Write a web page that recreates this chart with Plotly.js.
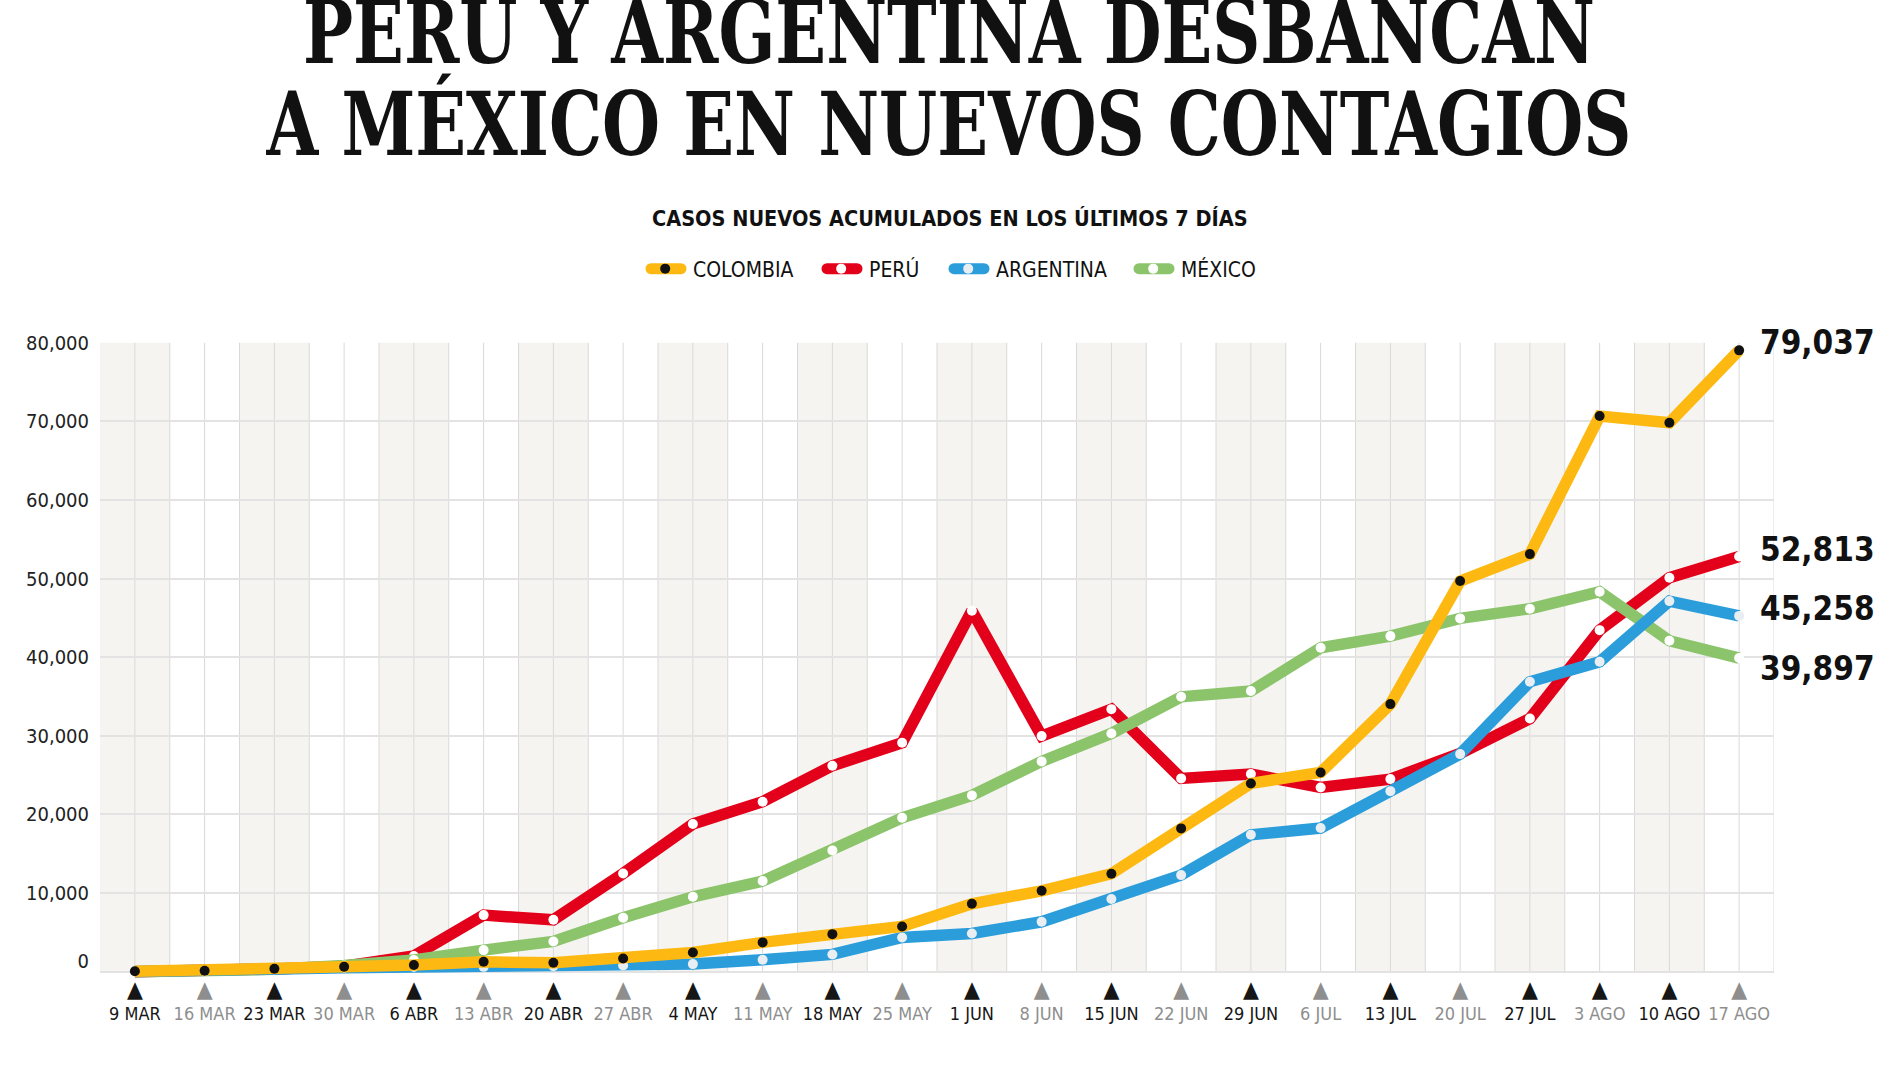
<!DOCTYPE html>
<html>
<head>
<meta charset="utf-8">
<script src="https://cdn.plot.ly/plotly-3.0.1.min.js"></script>
<style>
  html, body { margin: 0; padding: 0; background: #ffffff; }
  #chart { width: 1900px; height: 1068px; }
</style>
</head>
<body>
<div id="chart"></div>
<script>
// ---------- DATA ----------
const weeks = ["9 MAR","16 MAR","23 MAR","30 MAR","6 ABR","13 ABR","20 ABR","27 ABR",
  "4 MAY","11 MAY","18 MAY","25 MAY","1 JUN","8 JUN","15 JUN","22 JUN","29 JUN",
  "6 JUL","13 JUL","20 JUL","27 JUL","3 AGO","10 AGO","17 AGO"];

const colombia  = [50, 130, 380, 640, 850, 1260, 1130, 1690, 2450, 3730, 4780, 5760,
  8640, 10290, 12460, 18230, 23950, 25350, 34040, 49690, 53120, 70680, 69830, 79037];
const peru      = [10, 110, 350, 700, 2000, 7200, 6600, 12500, 18780, 21620, 26200, 29120,
  45910, 29970, 33400, 24590, 25140, 23440, 24500, 27770, 32200, 43450, 50110, 52813];
const argentina = [20, 60, 300, 500, 600, 620, 700, 800, 970, 1520, 2200, 4360,
  4870, 6350, 9240, 12290, 17420, 18270, 22970, 27680, 36880, 39420, 47140, 45258];
const mexico    = [10, 80, 300, 800, 1500, 2750, 3850, 6860, 9530, 11530, 15430, 19580,
  22430, 26750, 30310, 34970, 35700, 41200, 42690, 44940, 46170, 48330, 42100, 39897];

const yTicks = [0, 10000, 20000, 30000, 40000, 50000, 60000, 70000, 80000];

// tick emphasis (which labels / triangles are dark)
const darkLabel    = weeks.map((w, i) => i % 2 === 0);
const darkTriangle = weeks.map((w, i) => i % 2 === 0 || w === "3 AGO");

// ---------- STYLE ----------
const SANS = "DejaVu Sans Condensed, DejaVu Sans, sans-serif";
const DARK = "#161616", GREY = "#8e8e8e";
const idx = weeks.map((w, i) => i);

const ticktext = weeks.map((w, i) =>
  `<span style="color:${darkTriangle[i] ? DARK : GREY};font-size:23px">▲</span><br>` +
  `<span style="color:${darkLabel[i] ? DARK : GREY}">${w}</span>`);

function series(name, y, color, dot, rank) {
  return {
    type: "scatter", mode: "lines+markers", name: name, x: idx, y: y,
    line: { color: color, width: 11.5 },
    marker: { color: dot, size: 10, line: { width: 0 } },
    legendrank: rank, hoverinfo: "x+y+name", cliponaxis: false
  };
}

// drawing order: Perú (bottom), México, Argentina, Colombia (top)
const data = [
  series("PERÚ", peru, "#e3001b", "#ffffff", 2),
  series("MÉXICO", mexico, "#8cc46c", "#ffffff", 4),
  series("ARGENTINA", argentina, "#2b9ddb", "#e9eef3", 3),
  series("COLOMBIA", colombia, "#fdb912", "#111111", 1)
];

// background bands and vertical grid lines
const shapes = [];
for (let k = 0; k < weeks.length; k += 2) {
  shapes.push({ type: "rect", xref: "x", yref: "y", x0: k - 0.5, x1: k + 0.5,
    y0: 0, y1: 80000, fillcolor: "#f6f4f0", line: { width: 0 }, layer: "below" });
}
for (let j = 1; j <= weeks.length * 2; j++) {
  const xv = -0.5 + j * 0.5;
  shapes.push({ type: "line", xref: "x", yref: "y", x0: xv, x1: xv, y0: 0, y1: 80000,
    line: { color: "#d9d9d9", width: 1 }, layer: "below" });
}

const last = a => a[a.length - 1];
const endLabel = (v, off) => ({
  xref: "paper", yref: "y", x: 1.0615, y: v + off, xanchor: "right", yanchor: "middle",
  text: v.toLocaleString("en-US"), showarrow: false,
  font: { family: SANS, size: 33, weight: 700, color: "#111111" }
});

const layout = {
  width: 1900, height: 1068,
  paper_bgcolor: "#ffffff", plot_bgcolor: "#ffffff",
  margin: { l: 100, r: 126, t: 342, b: 90 },
  title: {
    text: "PERU Y ARGENTINA DESBANCAN<br>A MÉXICO EN NUEVOS CONTAGIOS",
    font: { family: "DejaVu Serif Condensed, DejaVu Serif, serif", size: 88, weight: 700, color: "#111111" },
    x: 0.5, xanchor: "center", xref: "paper", yref: "container", y: 0.99, yanchor: "top"
  },
  showlegend: true,
  legend: {
    orientation: "h", x: 0.5078, xanchor: "center", y: 1.1148, yanchor: "middle",
    font: { family: SANS, size: 21, color: "#111111" }, itemwidth: 44,
    traceorder: "normal", bgcolor: "rgba(0,0,0,0)"
  },
  xaxis: {
    range: [-0.5, 23.5], tickmode: "array", tickvals: idx, ticktext: ticktext,
    showgrid: false, zeroline: false, showline: false, ticks: "",
    tickfont: { family: SANS, size: 18, color: DARK }, fixedrange: true
  },
  yaxis: {
    range: [-800, 80100], tickmode: "array", tickvals: yTicks,
    ticktext: yTicks.map(v => v.toLocaleString("en-US")),
    showgrid: true, gridcolor: "#e3e3e3", gridwidth: 2,
    zeroline: false, showline: false, ticks: "", ticklabelstandoff: 10,
    tickfont: { family: SANS, size: 20, color: "#222222" }, fixedrange: true
  },
  shapes: shapes,
  annotations: [
    { xref: "paper", yref: "paper", x: 0.5078, y: 1.1934, xanchor: "center", yanchor: "middle",
      text: "CASOS NUEVOS ACUMULADOS EN LOS ÚLTIMOS 7 DÍAS", showarrow: false,
      font: { family: SANS, size: 21.5, weight: 700, color: "#111111" } },
    endLabel(last(colombia), 940),
    endLabel(last(peru), 940),
    endLabel(last(argentina), 980),
    endLabel(last(mexico), -1300)
  ]
};

// where each legend entry's text starts in the reference (page pixels)
const legendTextLeft = { "COLOMBIA": 693, "PERÚ": 869, "ARGENTINA": 996, "MÉXICO": 1181 };

Plotly.newPlot("chart", data, layout, { displayModeBar: false }).then(gd => {
  // headline: tighter line spacing and condensed width
  const el = gd.querySelector(".gtitle");
  if (el) {
    const lines = el.querySelectorAll("tspan.line");
    if (lines.length > 1) lines[1].setAttribute("dy", "1.045em");
    const w2 = lines.length > 1 ? lines[1].getComputedTextLength() : el.getComputedTextLength();
    const sx = 1365 / w2;
    const cx = parseFloat(el.getAttribute("x"));
    const p = el.getStartPositionOfChar(0);
    const ty = 63 - p.y;
    const tx = 949 - sx * cx;
    const prev = el.getAttribute("transform") || "";
    el.setAttribute("transform", `translate(${tx},${ty}) scale(${sx},1) ${prev}`);
  }
  // legend: no clipping, thick rounded samples and reference spacing
  gd.querySelectorAll(".legend [clip-path]").forEach(n => n.removeAttribute("clip-path"));
  gd.querySelectorAll(".legend g.traces").forEach(g => {
    const t = g.querySelector(".legendtext");
    if (!t) return;
    const target = legendTextLeft[t.textContent.trim()];
    if (target === undefined) return;
    const cur = t.getBoundingClientRect().left;
    const tr = g.getAttribute("transform") || "";
    const m = tr.match(/translate\(\s*([-\d.e]+)[ ,]+([-\d.e]+)\s*\)/);
    if (!m) return;
    g.setAttribute("transform", `translate(${parseFloat(m[1]) + (target - cur)},${m[2]})`);

    // symbol: 30px rounded bar (41px with caps) ending 7px before the text
    const sym = g.querySelector(".legendsymbols");
    const path = g.querySelector(".legendlines path");
    if (!sym || !path) return;
    path.style.strokeWidth = "11px";
    path.style.strokeLinecap = "round";
    const bb = path.getBBox();
    const lc = bb.x + bb.width / 2;
    path.setAttribute("d", `M${lc - 15},${bb.y + bb.height / 2}h30`);
    const r = path.getBoundingClientRect();
    const center = r.left + r.width / 2;
    const tl = t.getBoundingClientRect().left;
    const delta = (tl - 27.8) - center;
    sym.setAttribute("transform", `translate(${delta},0) ` + (sym.getAttribute("transform") || ""));
  });
  // the "0" label sits a little above the baseline in the reference
  gd.querySelectorAll(".ytick text").forEach(t => {
    if (t.textContent.trim() === "0") {
      const prev = t.getAttribute("transform") || "";
      t.setAttribute("transform", `translate(0,-11) ${prev}`);
    }
  });
});
</script>
</body>
</html>
